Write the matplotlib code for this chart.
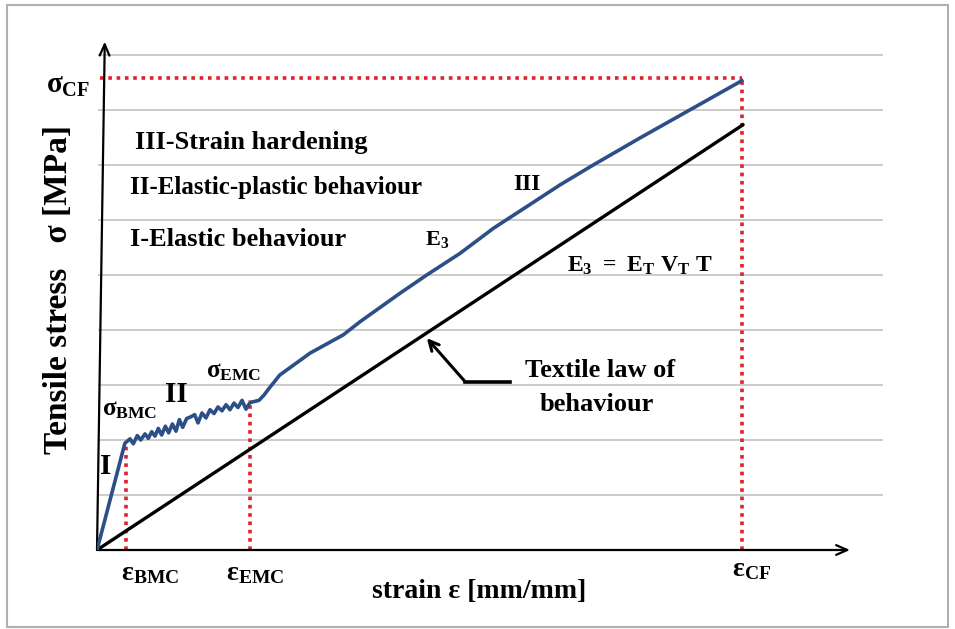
import matplotlib
matplotlib.use("Agg")
import matplotlib.pyplot as plt
from matplotlib.patches import Rectangle

plt.rcParams["font.family"] = ["Liberation Serif", "DejaVu Serif"]
plt.rcParams["font.weight"] = "bold"
plt.rcParams["mathtext.fontset"] = "custom"
plt.rcParams["mathtext.rm"] = "Liberation Serif:bold"
plt.rcParams["mathtext.it"] = "Liberation Serif:bold"
plt.rcParams["mathtext.bf"] = "Liberation Serif:bold"

# characteristic points (schematic units)
eps_bmc, eps_emc, eps_cf = 0.45, 2.36, 9.95
sig_bmc, sig_emc, sig_cf = 1.91, 2.72, 8.58

# composite curve: I elastic, II multiple cracking, III strain hardening
curve_eps = [0, 0.43, 0.509, 0.560, 0.622, 0.674, 0.741, 0.792, 0.844, 0.895,
             0.946, 0.998, 1.055, 1.106, 1.163, 1.219, 1.271, 1.322, 1.384,
             1.446, 1.507, 1.559, 1.620, 1.682, 1.744, 1.806, 1.867, 1.929,
             1.991, 2.052, 2.114, 2.176, 2.238, 2.299, 2.361, 2.50, 2.58, 2.65,
             2.82, 3.29, 3.80, 4.06, 4.68, 5.09, 5.60, 6.12, 6.63, 7.15, 7.66,
             8.38, 9.15, 9.95]
curve_sig = [0, 1.94, 2.02, 1.93, 2.08, 2.00, 2.11, 2.03, 2.15, 2.07,
             2.21, 2.09, 2.25, 2.13, 2.29, 2.16, 2.37, 2.23, 2.39,
             2.42, 2.46, 2.31, 2.49, 2.40, 2.55, 2.48, 2.60, 2.53,
             2.64, 2.55, 2.67, 2.59, 2.72, 2.56, 2.68, 2.72, 2.82, 2.93,
             3.18, 3.58, 3.91, 4.15, 4.67, 5.00, 5.39, 5.85, 6.24, 6.64, 7.00,
             7.49, 8.00, 8.53]

# textile law of behaviour
textile_eps = [0, 9.97]
textile_sig = [0, 7.73]

grid_levels = [1, 2, 3, 4, 5, 6, 7, 8, 9]

BLUE = "#2b4f86"
RED = "#e0202e"
GRID = "#bdbdbd"
DOT = (0, (1, 1.3))

fig = plt.figure(figsize=(9.55, 6.29), dpi=100)
fig.patches.append(Rectangle((7 / 955, 2 / 629), 941 / 955, 622 / 629,
                             transform=fig.transFigure, fill=False,
                             edgecolor="#b0b0b0", lw=1.5))

ax = fig.add_axes([97 / 955, 79 / 629, 788 / 955, 510 / 629])
ax.set_xlim(0, 12.16)
ax.set_ylim(0, 9.27)
ax.axis("off")

ax.hlines(grid_levels, 0.02, 12.13, color=GRID, lw=1.1, zorder=1)

# axes with arrows
ax.annotate("", xy=(11.62, 0), xytext=(0, 0), annotation_clip=False,
            arrowprops=dict(arrowstyle="->,head_length=0.8,head_width=0.35",
                            lw=1.6, color="black", shrinkA=0, shrinkB=0))
ax.annotate("", xy=(0.12, 9.24), xytext=(0, 0), annotation_clip=False,
            arrowprops=dict(arrowstyle="->,head_length=0.8,head_width=0.35",
                            lw=1.6, color="black", shrinkA=0, shrinkB=0))

# red dotted guides
ax.plot([0.04, eps_cf], [sig_cf, sig_cf], color=RED, lw=2.6, ls=DOT, zorder=2)
ax.plot([eps_cf, eps_cf], [0, sig_cf], color=RED, lw=2.6, ls=DOT, zorder=2)
ax.plot([eps_bmc, eps_bmc], [0, sig_bmc], color=RED, lw=2.6, ls=DOT, zorder=2)
ax.plot([eps_emc, eps_emc], [0, sig_emc], color=RED, lw=2.6, ls=DOT, zorder=2)

ax.plot(textile_eps, textile_sig, color="black", lw=2.4, zorder=3,
        solid_capstyle="round")
ax.plot(curve_eps, curve_sig, color=BLUE, lw=2.6, zorder=4,
        solid_joinstyle="round")

# pointer to the textile law
ax.plot([6.37, 5.68], [3.06, 3.06], color="black", lw=2.6, zorder=3)
ax.annotate("", xy=(5.09, 3.85), xytext=(5.68, 3.06),
            arrowprops=dict(arrowstyle="->,head_length=0.7,head_width=0.35",
                            lw=2.2, color="black", shrinkA=0, shrinkB=0))
ax.text(7.76, 3.27, "Textile law of", fontsize=19, ha="center", va="center")
ax.text(7.72, 2.64, "behaviour", fontsize=19, ha="center", va="center")

# stage legend
ax.text(0.59, 7.40, "III-Strain hardening", fontsize=19, va="center")
ax.text(0.51, 6.58, "II-Elastic-plastic behaviour", fontsize=18, va="center")
ax.text(0.51, 5.64, "I-Elastic behaviour", fontsize=19, va="center")

# labels on the curve
ax.text(6.64, 6.64, "III", fontsize=17, ha="center", va="center")
ax.text(5.25, 5.64, r"$\mathrm{E_3}$", fontsize=16, ha="center", va="center")
ax.text(7.25, 5.16, r"$\mathrm{E_3\ =\ E_T\ V_T\ T}$", fontsize=17, va="center")
ax.text(1.22, 2.82, "II", fontsize=21, ha="center", va="center")
ax.text(0.14, 1.51, "I", fontsize=21, ha="center", va="center")
ax.text(0.51, 2.55, r"$\sigma_{\mathrm{BMC}}$", fontsize=18, ha="center", va="center")
ax.text(2.11, 3.24, r"$\sigma_{\mathrm{EMC}}$", fontsize=18, ha="center", va="center")

# axis tick-like labels
ax.text(-0.45, 8.45, r"$\sigma_{\mathrm{CF}}$", fontsize=21, ha="center", va="center")
ax.text(0.82, -0.42, r"$\mathrm{\varepsilon_{BMC}}$", fontsize=20, ha="center", va="center")
ax.text(2.44, -0.42, r"$\mathrm{\varepsilon_{EMC}}$", fontsize=20, ha="center", va="center")
ax.text(10.10, -0.36, r"$\mathrm{\varepsilon_{CF}}$", fontsize=20, ha="center", va="center")

ax.text(5.9, -0.76, "strain ε [mm/mm]", fontsize=20, ha="center", va="center")
ax.text(-0.60, 4.73, "Tensile stress   σ [MPa]", fontsize=24, rotation=90,
        ha="center", va="center")

fig.savefig("out.png", dpi=100)
